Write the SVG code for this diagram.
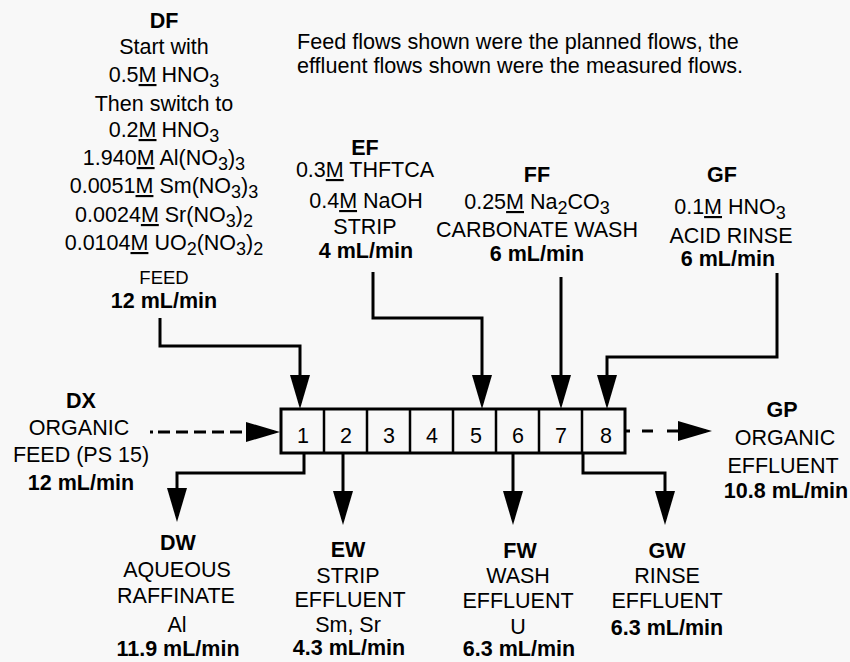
<svg xmlns="http://www.w3.org/2000/svg" width="850" height="662" viewBox="0 0 850 662">
<style>
text{font-family:"Liberation Sans",Arial,Helvetica,sans-serif;font-size:21.5px;fill:#000;text-anchor:middle}
.b{font-weight:bold}
.note{text-anchor:start;font-size:21.6px}
.u{text-decoration:underline}
.s{font-size:18px}
.conn{fill:none;stroke:#000;stroke-width:3}
.dash{fill:none;stroke:#000;stroke-width:3}
.cell{fill:none;stroke:#000;stroke-width:2.5}
.box{fill:none;stroke:#000;stroke-width:3}
</style>
<defs>
<marker id="ah" viewBox="0 0 34 20" refX="28" refY="10" markerWidth="34" markerHeight="20" markerUnits="userSpaceOnUse" orient="auto">
<path d="M0,0 L34,10 L0,20 z" fill="#000"/>
</marker>
</defs>
<rect x="0" y="0" width="850" height="662" fill="#f8f8f8"/>

<g id="note">
<text class="note" x="297" y="49">Feed flows shown were the planned flows, the</text>
<text class="note" x="297" y="73">effluent flows shown were the measured flows.</text>
</g>

<g id="DF">
<text class="b" x="164" y="28">DF</text>
<text x="164" y="54">Start with</text>
<text x="164" y="82">0.5<tspan class="u">M</tspan><tspan dx="5">HNO</tspan><tspan class="s" dy="5">3</tspan></text>
<text x="164" y="111">Then switch to</text>
<text x="164" y="137">0.2<tspan class="u">M</tspan><tspan dx="5">HNO</tspan><tspan class="s" dy="5">3</tspan></text>
<text x="164" y="165">1.940<tspan class="u">M</tspan> Al(NO<tspan class="s" dy="5">3</tspan><tspan dy="-5">)</tspan><tspan class="s" dy="5">3</tspan></text>
<text x="164" y="193">0.0051<tspan class="u">M</tspan> Sm(NO<tspan class="s" dy="5">3</tspan><tspan dy="-5">)</tspan><tspan class="s" dy="5">3</tspan></text>
<text x="164" y="222">0.0024<tspan class="u">M</tspan> Sr(NO<tspan class="s" dy="5">3</tspan><tspan dy="-5">)</tspan><tspan class="s" dy="5">2</tspan></text>
<text x="164" y="250">0.0104<tspan class="u">M</tspan> UO<tspan class="s" dy="5">2</tspan><tspan dy="-5">(NO</tspan><tspan class="s" dy="5">3</tspan><tspan dy="-5">)</tspan><tspan class="s" dy="5">2</tspan></text>
<text x="164" y="284" style="font-size:18.5px">FEED</text>
<text class="b" x="164" y="308">12 mL/min</text>
</g>

<g id="EF">
<text class="b" x="365" y="155">EF</text>
<text x="365" y="177">0.3<tspan class="u">M</tspan> THFTCA</text>
<text x="366" y="208">0.4<tspan class="u">M</tspan> NaOH</text>
<text x="365" y="234">STRIP</text>
<text class="b" x="366" y="258">4 mL/min</text>
</g>

<g id="FF">
<text class="b" x="537" y="182">FF</text>
<text x="537" y="209">0.25<tspan class="u">M</tspan> Na<tspan class="s" dy="5">2</tspan><tspan dy="-5">CO</tspan><tspan class="s" dy="5">3</tspan></text>
<text x="537" y="237">CARBONATE WASH</text>
<text class="b" x="537" y="261">6 mL/min</text>
</g>

<g id="GF">
<text class="b" x="722" y="182">GF</text>
<text x="730" y="214">0.1<tspan class="u">M</tspan> HNO<tspan class="s" dy="5">3</tspan></text>
<text x="731" y="243">ACID RINSE</text>
<text class="b" x="728" y="266">6 mL/min</text>
</g>

<g id="DX">
<text class="b" x="81" y="408">DX</text>
<text x="79" y="435">ORGANIC</text>
<text x="81" y="462">FEED (PS 15)</text>
<text class="b" x="81" y="490">12 mL/min</text>
</g>

<g id="GP">
<text class="b" x="782" y="417">GP</text>
<text x="785" y="445">ORGANIC</text>
<text x="783" y="473">EFFLUENT</text>
<text class="b" x="786" y="498">10.8 mL/min</text>
</g>

<g id="DW">
<text class="b" x="178" y="550">DW</text>
<text x="177" y="577">AQUEOUS</text>
<text x="176" y="603">RAFFINATE</text>
<text x="177" y="632">Al</text>
<text class="b" x="178" y="656">11.9 mL/min</text>
</g>

<g id="EW">
<text class="b" x="348" y="557">EW</text>
<text x="348" y="583">STRIP</text>
<text x="350" y="607">EFFLUENT</text>
<text x="348" y="632">Sm, Sr</text>
<text class="b" x="349" y="655">4.3 mL/min</text>
</g>

<g id="FW">
<text class="b" x="520" y="558">FW</text>
<text x="518" y="583">WASH</text>
<text x="518" y="608">EFFLUENT</text>
<text x="518" y="634">U</text>
<text class="b" x="519" y="656">6.3 mL/min</text>
</g>

<g id="GW">
<text class="b" x="667" y="558">GW</text>
<text x="667" y="583">RINSE</text>
<text x="667" y="608">EFFLUENT</text>
<text class="b" x="667" y="635">6.3 mL/min</text>
</g>

<g id="contactor">
<rect class="box" x="281" y="409" width="344" height="44"/>
<path class="cell" d="M324,409V453M367,409V453M410,409V453M453,409V453M496,409V453M539,409V453M582,409V453"/>
<text x="303" y="443">1</text>
<text x="346" y="443">2</text>
<text x="389" y="443">3</text>
<text x="432" y="443">4</text>
<text x="476" y="443">5</text>
<text x="518" y="443">6</text>
<text x="561" y="443">7</text>
<text x="606" y="443">8</text>
</g>

<g id="connectors">
<path class="conn" d="M160,318V346H300V403" marker-end="url(#ah)"/>
<path class="conn" d="M373,272V318H482V403" marker-end="url(#ah)"/>
<path class="conn" d="M561,277V403" marker-end="url(#ah)"/>
<path class="conn" d="M777,273V357H607V403" marker-end="url(#ah)"/>
<path class="dash" d="M150,432H274" stroke-dasharray="3 5 12 6 12 6 12 6 12 6 12 6 40" marker-end="url(#ah)"/>
<path class="dash" d="M626,431H706" stroke-dasharray="4 12 11 14 60" marker-end="url(#ah)"/>
<path class="conn" d="M304,453V473H177V516" marker-end="url(#ah)"/>
<path class="conn" d="M343,453V519" marker-end="url(#ah)"/>
<path class="conn" d="M513,453V519" marker-end="url(#ah)"/>
<path class="conn" d="M583,453V473H665V519" marker-end="url(#ah)"/>
</g>
</svg>
